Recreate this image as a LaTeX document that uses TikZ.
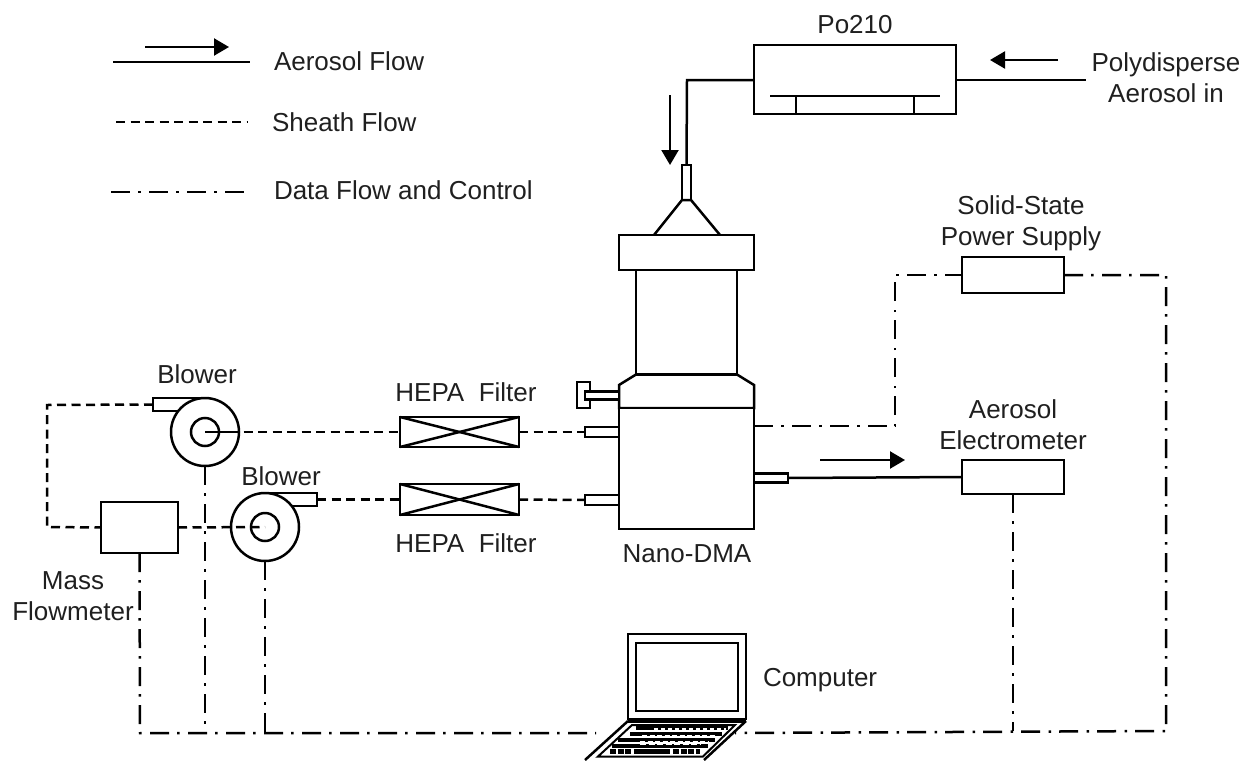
\documentclass[tikz,border=0pt]{standalone}
\usepackage{fontspec}
\setmainfont{Liberation Sans}
\usetikzlibrary{arrows.meta,calc}
\tikzset{
  x=1pt,y=-1pt,
  every node/.style={inner sep=0pt,outer sep=0pt},
  part/.style={draw=black,line width=2.5pt,fill=white,rectangle,minimum width=#1},
  part/.default=10pt,
  ring/.style={draw=black,line width=2.5pt,fill=white,circle,minimum size=#1},
  lbl/.style={font=\fontsize{26}{31}\selectfont,align=center,text=black!88},
  solidline/.style={line width=2.5pt,draw=black},
  sheath/.style={line width=2.5pt,draw=black,dash pattern=on 9pt off 5.5pt},
  datal/.style={line width=2.5pt,draw=black,dash pattern=on 19pt off 8pt on 2.5pt off 8.5pt},
  flowarrow/.style={line width=2.2pt,draw=black,-{Triangle[length=15pt,width=17pt]}},
  keyrow/.style={line width=#1,draw=black},
}
\begin{document}
\begin{tikzpicture}
\useasboundingbox (0,0) rectangle (1244,760);
% free coordinates
\coordinate (legAa) at (113,62); \coordinate (legAb) at (250,62);
\coordinate (legArrA) at (145,47); \coordinate (legArrB) at (229,47);
\coordinate (legBa) at (116,122); \coordinate (legBb) at (247,122);
\coordinate (legCa) at (111,192); \coordinate (legCb) at (244,192);
\coordinate (poL) at (754,80); \coordinate (poR) at (956,80);
\coordinate (poBend) at (687,80); \coordinate (inlet) at (1086,80);
\coordinate (arrInA) at (1058,60); \coordinate (arrInB) at (990,60);
\coordinate (arrDnA) at (670,95); \coordinate (arrDnB) at (670,165);
\coordinate (arrOutA) at (820,460); \coordinate (arrOutB) at (905,460);
\coordinate (dmaPort) at (754,426); \coordinate (upBend) at (895,426); \coordinate (upTop) at (895,275);
\coordinate (rightTop) at (1166,275); \coordinate (rightBot) at (1166,731);
\coordinate (busElec) at (1013,731); \coordinate (busL) at (140,733);
\coordinate (lapL) at (596,733); \coordinate (lapR) at (735,733);
\coordinate (sheathTL) at (47,405); \coordinate (sheathBL) at (47,527);
% legend
\draw[solidline] (legAa) -- (legAb);
\draw[flowarrow] (legArrA) -- (legArrB);
\draw[sheath] (legBa) -- (legBb);
\draw[datal] (legCa) -- (legCb);
\node[lbl,anchor=west] (tA) at (274,61) {Aerosol Flow};
\node[lbl,anchor=west] (tB) at (272,122) {Sheath Flow};
\node[lbl,anchor=west] (tC) at (274,190) {Data Flow and Control};
% Po210
\node[part=202pt,minimum height=69pt] (po) at (855,79.5) {};
\coordinate (foilL) at (770,96); \coordinate (foilR) at (940,96);
\draw[solidline] (foilL) -- (foilR);
\draw[solidline] (796,96) -- (796,114);
\draw[solidline] (914,96) -- (914,114);
\node[lbl] (tPo) at (855,25) {Po210};
\node[lbl] (tPoly) at (1166,78) {Polydisperse\\Aerosol in};
% DMA
\node[part=9pt,minimum height=35pt] (tube) at (686.5,182.5) {};
\draw[solidline] (654,235) -- (tube.south west) -- (tube.south east) -- (720,235);
\node[part=101pt,minimum height=104pt] (column) at (686.5,322) {};
\node[part=135pt,minimum height=35pt] (dmaTop) at (686.5,252.5) {};
\draw[solidline,fill=white] (619,408) -- (619,385) -- (636,374.5) -- (737,374.5) -- (754,385) -- (754,408) -- cycle;
\node[part=135pt,minimum height=121pt] (dma) at (686.5,468.5) {};
\node[part=13pt,minimum height=26pt] (knobHead) at (583.5,395) {};
\node[part=34pt,minimum height=8pt] (knobStem) at (602,395.5) {};
\node[part=34pt,minimum height=10pt] (portA) at (602,432) {};
\node[part=34pt,minimum height=10pt] (portB) at (602,500) {};
\node[part=34pt,minimum height=9pt] (portOut) at (771,478) {};
\node[lbl] (tDma) at (687,554) {Nano-DMA};
% Filters
\node[part=119pt,minimum height=30pt] (filterA) at (459.5,432) {};
\draw[solidline] (filterA.north west) -- (filterA.south east);
\draw[solidline] (filterA.south west) -- (filterA.north east);
\node[part=119pt,minimum height=31pt] (filterB) at (459.5,499.5) {};
\draw[solidline] (filterB.north west) -- (filterB.south east);
\draw[solidline] (filterB.south west) -- (filterB.north east);
\node[lbl] (tFa) at (466,392) {HEPA\ \ Filter};
\node[lbl] (tFb) at (466,543) {HEPA\ \ Filter};
% Blowers
\node[part=52pt,minimum height=13pt] (outA) at (179,404.5) {};
\node[ring=68pt] (blowerA) at (205,432) {};
\node[ring=28pt] (hubA) at (205,432) {};
\draw[solidline] (hubA.center) -- (blowerA.east);
\node[part=52pt,minimum height=13pt] (outB) at (291,499.5) {};
\node[ring=68pt] (blowerB) at (265,527) {};
\node[ring=28pt] (hubB) at (265,527) {};
\node[lbl] (tBa) at (197,374) {Blower};
\node[lbl] (tBb) at (281,476) {Blower};
% Mass flowmeter
\node[part=77pt,minimum height=51pt] (mass) at (139.5,527.5) {};
\node[lbl] (tMass) at (73,596) {Mass\\Flowmeter};
% Electrometer, power
\node[part=102pt,minimum height=34pt] (elec) at (1013,477) {};
\node[part=102pt,minimum height=36pt] (power) at (1013,275) {};
\node[lbl] (tPow) at (1021,223) {Solid-State\\Power Supply};
\node[lbl] (tElec) at (1013,425) {Aerosol\\Electrometer};
% Aerosol connectors
\draw[solidline] (poL) -- (poBend) -- (tube.north);
\draw[solidline] (poR) -- (inlet);
\draw[solidline] (portOut.east) -- (elec.west);
\draw[flowarrow] (arrInA) -- (arrInB);
\draw[flowarrow] (arrDnA) -- (arrDnB);
\draw[flowarrow] (arrOutA) -- (arrOutB);
% Sheath connectors
\draw[sheath,dash phase=10pt] (blowerA.east) -- (filterA.west);
\draw[sheath] (filterA.east) -- (portA.west);
\draw[sheath] (outB.east) -- (filterB.west);
\draw[sheath] (filterB.east) -- (portB.west);
\draw[sheath] (outA.west) -- (sheathTL) -- (sheathBL) -- (mass.west);
\draw[sheath] (mass.east) -- (hubB.center);
% Data connectors
\draw[datal] (mass.south) -- (busL) -- (lapL);
\draw[datal] (blowerA.south) -- (blowerA.south |- busL);
\draw[datal] (blowerB.south) -- (blowerB.south |- busL);
\draw[datal] (dmaPort) -- (upBend) -- (upTop) -- (power.west);
\draw[datal] (power.east) -- (rightTop) -- (rightBot) -- (lapR);
\draw[datal] (elec.south) -- (busElec);
% Laptop
\node[part=118pt,minimum height=85pt] (laptop) at (687,676.5) {};
\node[part=102pt,minimum height=68pt] (screen) at (687,677) {};
\fill[white] (628,721) -- (746,721) -- (704,760) -- (585,760) -- cycle;
\draw[solidline] (laptop.south west) ++(0,2.5) -- ++(118,0);
\draw[solidline] (628,721) -- (585,760);
\draw[solidline] (746,721) -- (704,760);
\draw[line width=2pt] (632,725) -- (735,725) -- (703,756.5) -- (598,756.5) -- cycle;
\draw[keyrow=3.5pt] (636,728) -- (728,728);
\draw[keyrow=2.5pt,white,dash pattern=on 4pt off 3pt] (654,729.5) -- (726,729.5);
\draw[keyrow=4pt] (630,733.5) -- (722,733.5);
\draw[keyrow=2pt,white,dash pattern=on 5pt off 2.5pt] (642,735.5) -- (716,735.5);
\draw[keyrow=4pt] (618,740) -- (715,740);
\draw[keyrow=2pt,white,dash pattern=on 5pt off 2.5pt] (640,742) -- (708,742);
\draw[keyrow=4.5pt] (612,746) -- (708,746);
\draw[keyrow=1.8pt,white,dash pattern=on 6pt off 2.5pt] (640,744.5) -- (700,744.5);
\draw[keyrow=4.5pt,dash pattern=on 6pt off 1.5pt on 6pt off 1.5pt on 6pt off 3pt on 36pt off 3pt on 6pt off 1.5pt on 6pt off 1.5pt on 6pt off 1.5pt on 6pt] (610,751.5) -- (700,751.5);
\node[lbl,anchor=west] (tComp) at (763,680) {Computer};
\end{tikzpicture}
\end{document}
